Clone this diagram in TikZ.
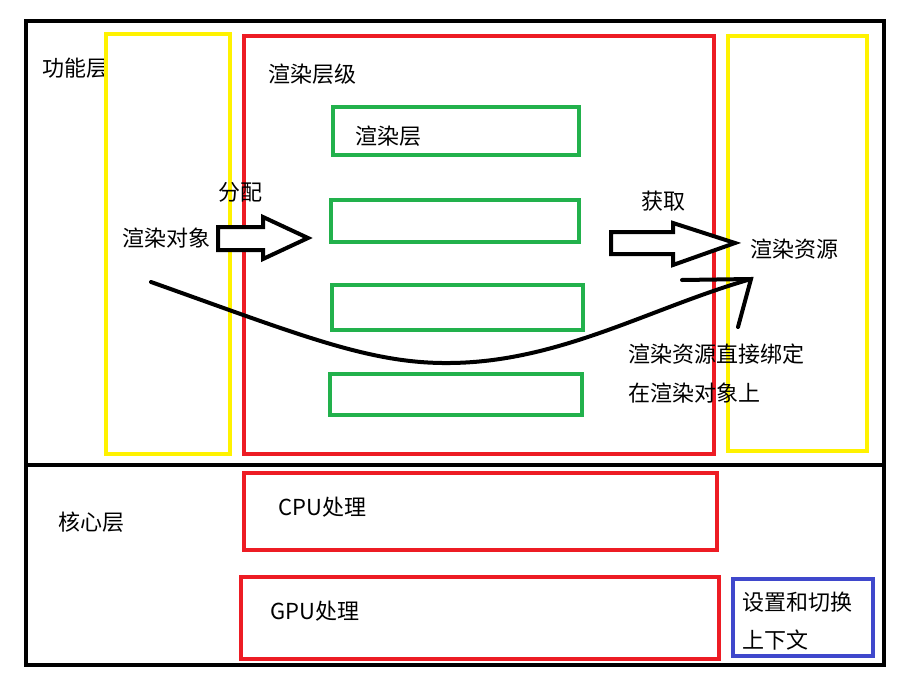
\documentclass[tikz,border=0pt]{standalone}
\usepackage{fontspec}
\setmainfont{Noto Sans CJK SC}
\usetikzlibrary{calc,positioning}
\definecolor{pyellow}{RGB}{255,242,0}
\definecolor{pred}{RGB}{237,28,36}
\definecolor{pgreen}{RGB}{34,177,76}
\definecolor{pblue}{RGB}{63,72,204}

\begin{document}
\begin{tikzpicture}[x=1pt,y=-1pt,
  layer/.style={draw=black,line width=4pt},
  side/.style={draw=pyellow,line width=4pt},
  group/.style={draw=pred,line width=4pt},
  slot/.style={draw=pgreen,line width=4pt},
  ctx/.style={draw=pblue,line width=4pt},
  label/.style={anchor=west,inner sep=0pt,font=\fontsize{22pt}{26pt}\selectfont},
  fat/.style={draw=black,line width=4pt,line join=miter,fill=white}]
\useasboundingbox (0,0) rectangle (902,688);
% layers
\draw[layer] (26,21) coordinate(F1) rectangle (884,465) coordinate(F2);
\draw[layer] (26,465) coordinate(K1) rectangle (884,665) coordinate(K2);
\node[label] (func) at (42,68) {功能层};
\node[label] (core) at (58,522) {核心层};
% functional layer
\draw[side] (106,34) rectangle (230,454);
\draw[group] (244,36) rectangle (714,454);
\draw[side] (728,36) rectangle (867,451);
\node[label] (obj) at (122,238) {渲染对象};
\node[label] (lvl) at (268,74) {渲染层级};
\node[label] (res) at (750,249) {渲染资源};
\draw[slot] (333,107) rectangle (579,155);
\draw[slot] (331,200) coordinate(S2a) rectangle (579,242);
\draw[slot] (332,285) rectangle (583,330);
\draw[slot] (330,374) rectangle (582,415);
\node[label] (rl) at (355,136) {渲染层};
% block arrows
\draw[fat] (218,227) -- (263,227) -- (263,217) -- (308,238) coordinate(tipA) -- (263,259) -- (263,250) -- (218,250) -- cycle;
\node[label] (assign) at (218,192) {分配};
\draw[fat] (611,232) -- (673,232) -- (673,223) -- (735,243) coordinate(tipB) -- (673,265) -- (673,254) -- (611,254) -- cycle;
\node[label] (fetch) at (641,201) {获取};
% direct binding
\coordinate (c0) at (151,282);
\coordinate (c1) at (751,279);
\draw[line width=4pt,line cap=round] (c0) .. controls (300,335) and (370,364) .. (450,363)
  .. controls (560,362) and (650,308) .. (c1);
\draw[line width=4pt,line cap=round] (682,280) -- (c1) -- (738,327);
\node[label] (bind1) at (628,354) {渲染资源直接绑定};
\node[label] (bind2) at (628,393) {在渲染对象上};
% core layer
\draw[group] (244,473) rectangle (717,550);
\node[label] (cpu) at (278,507) {CPU处理};
\draw[group] (241,577) rectangle (719,659);
\node[label] (gpu) at (270,611) {GPU处理};
\draw[ctx] (733,579) rectangle (873,656);
\node[label] (sw1) at (742,602) {设置和切换};
\node[label] (sw2) at (742,640) {上下文};
\end{tikzpicture}
\end{document}
